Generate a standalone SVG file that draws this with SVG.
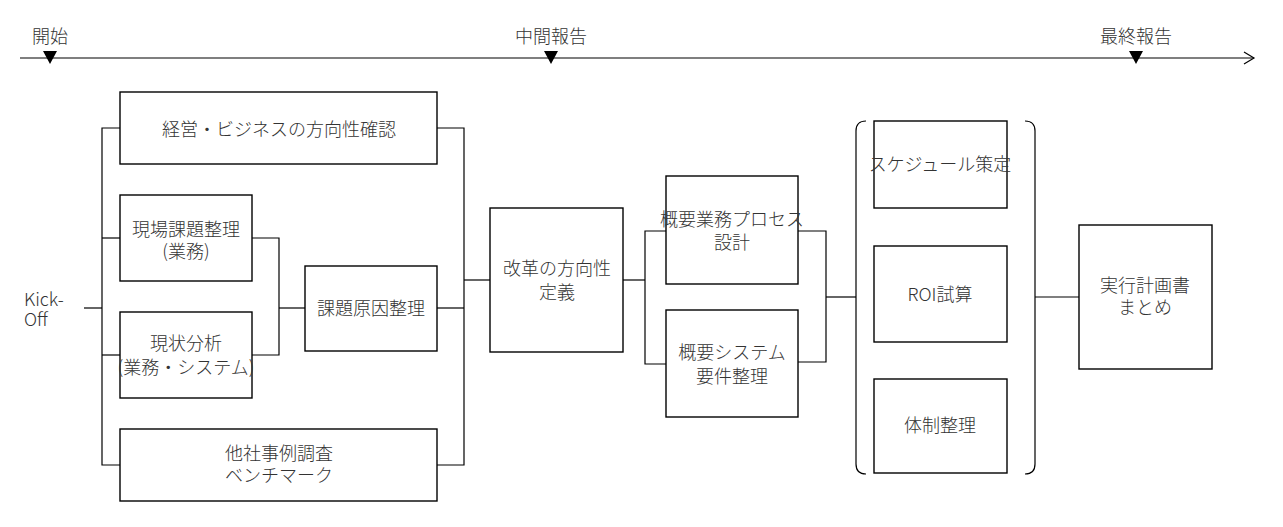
<svg xmlns="http://www.w3.org/2000/svg" width="1283" height="527" viewBox="0 0 1283 527">
<style>
text{font-family:"Noto Sans CJK JP","Noto Sans",sans-serif;font-size:18px;fill:#333;font-weight:300;text-anchor:middle;dominant-baseline:central}
.box{fill:#fff;stroke:#000;stroke-width:1.4}
.ln{fill:none;stroke:#000;stroke-width:1.2}
.tri{fill:#000}
</style>
<g id="timeline">
<line class="ln" x1="20" y1="58" x2="1254" y2="58" stroke-width="1.4"/>
<polyline class="ln" points="1244,52 1254,58 1244,64"/>
<polygon class="tri" points="43,51 57,51 50,64"/>
<polygon class="tri" points="544,51 558,51 551,64"/>
<polygon class="tri" points="1129,51 1143,51 1136,64"/>
<text x="50" y="35">開始</text>
<text x="551" y="35">中間報告</text>
<text x="1136" y="35">最終報告</text>
</g>
<g id="connectors">
<polyline class="ln" points="84,308 102,308"/>
<polyline class="ln" points="120,128 102,128 102,465 120,465"/>
<line class="ln" x1="102" y1="238" x2="120" y2="238"/>
<line class="ln" x1="102" y1="355" x2="120" y2="355"/>
<polyline class="ln" points="252,238 279,238 279,355 252,355"/>
<line class="ln" x1="279" y1="308" x2="305" y2="308"/>
<polyline class="ln" points="437,128 464,128 464,465 437,465"/>
<line class="ln" x1="437" y1="308" x2="464" y2="308"/>
<line class="ln" x1="464" y1="280" x2="490" y2="280"/>
<line class="ln" x1="623" y1="280" x2="645" y2="280"/>
<polyline class="ln" points="666,231 645,231 645,364 666,364"/>
<polyline class="ln" points="798,231 826,231 826,362 798,362"/>
<line class="ln" x1="826" y1="297" x2="856" y2="297"/>
<line class="ln" x1="1035" y1="297" x2="1079" y2="297"/>
<path class="ln" d="M866 121 Q856 121 856 131 V464 Q856 474 866 474"/>
<path class="ln" d="M1025 121 Q1035 121 1035 131 V464 Q1035 474 1025 474"/>
</g>
<g id="kickoff">
<text x="24" y="298" style="text-anchor:start">Kick-</text>
<text x="24" y="318" style="text-anchor:start">Off</text>
</g>
<g id="n1"><rect class="box" x="120" y="92" width="317" height="72"/><text x="279" y="128">経営・ビジネスの方向性確認</text></g>
<g id="n2"><rect class="box" x="120" y="195" width="132" height="86"/><text x="186" y="228">現場課題整理</text><text x="186" y="250">(業務)</text></g>
<g id="n3"><rect class="box" x="120" y="312" width="132" height="86"/><text x="186" y="342">現状分析</text><text x="186" y="366">(業務・システム)</text></g>
<g id="n4"><rect class="box" x="120" y="429" width="317" height="72"/><text x="279" y="452">他社事例調査</text><text x="279" y="474">ベンチマーク</text></g>
<g id="n5"><rect class="box" x="305" y="266" width="132" height="85"/><text x="371" y="307">課題原因整理</text></g>
<g id="n6"><rect class="box" x="490" y="208" width="133" height="144"/><text x="557" y="267">改革の方向性</text><text x="557" y="291">定義</text></g>
<g id="n7"><rect class="box" x="666" y="176" width="132" height="108"/><text x="732" y="218">概要業務プロセス</text><text x="732" y="241">設計</text></g>
<g id="n8"><rect class="box" x="666" y="310" width="132" height="107"/><text x="732" y="351">概要システム</text><text x="732" y="375">要件整理</text></g>
<g id="n10"><rect class="box" x="874" y="121" width="133" height="87"/><text x="940" y="163">スケジュール策定</text></g>
<g id="n11"><rect class="box" x="874" y="246" width="133" height="96"/><text x="940" y="293">ROI試算</text></g>
<g id="n12"><rect class="box" x="874" y="379" width="133" height="94"/><text x="940" y="424">体制整理</text></g>
<g id="n13"><rect class="box" x="1079" y="225" width="133" height="144"/><text x="1145" y="284">実行計画書</text><text x="1145" y="306">まとめ</text></g>
</svg>
